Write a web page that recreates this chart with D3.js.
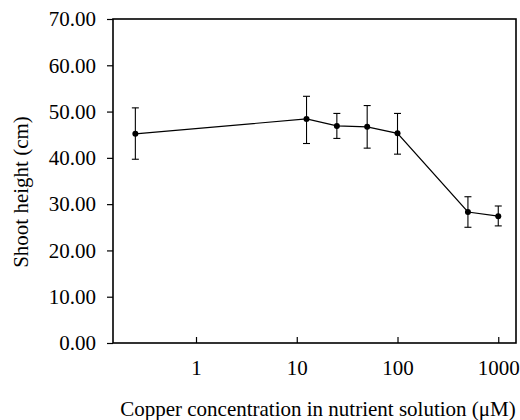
<!DOCTYPE html>
<html>
<head>
<meta charset="utf-8">
<script src="https://cdn.jsdelivr.net/npm/d3@7"></script>
<style>
  html, body { margin: 0; padding: 0; background: #fff; }
  svg { display: block; }
  text { font-family: "Liberation Serif", "Times New Roman", serif; fill: #000; }
</style>
</head>
<body>
<svg id="chart" width="520" height="420"></svg>
<script>
// Data
const concentrations = [0.25, 12.5, 25, 50, 100, 500, 1000];
const shootHeight    = [45.2, 48.4, 46.9, 46.7, 45.3, 28.3, 27.4];
const errUpper       = [50.8, 53.3, 49.6, 51.3, 49.6, 31.6, 29.6];
const errLower       = [39.7, 43.1, 44.2, 42.1, 40.8, 25.0, 25.3];
const xTickValues    = [1, 10, 100, 1000];
const yTickValues    = [0, 10, 20, 30, 40, 50, 60, 70];

const svg = d3.select("#chart");
const margin = { left: 113, right: 4, top: 19, bottom: 77 };
const W = 520, H = 420;

const x = d3.scaleLog().domain([0.15, 1500]).range([margin.left, W - margin.right]);
const y = d3.scaleLinear().domain([0, 70]).range([H - margin.bottom, margin.top]);

const fontSize = 21;

// Y axis
const yAxis = svg.append("g")
  .attr("transform", `translate(${margin.left},0)`)
  .call(d3.axisLeft(y).tickValues(yTickValues).tickFormat(d3.format(".2f")).tickSize(6).tickPadding(11));
yAxis.select(".domain").remove();
yAxis.selectAll("line").attr("stroke", "#000").attr("stroke-width", 1.2);
yAxis.selectAll("text").attr("font-size", fontSize).attr("font-family", "Liberation Serif");

// X axis (ticks inward)
const xAxis = svg.append("g")
  .attr("transform", `translate(0,${H - margin.bottom})`)
  .call(d3.axisBottom(x).tickValues(xTickValues).tickFormat(d3.format("d")).tickSizeInner(-6).tickSizeOuter(0).tickPadding(17));
xAxis.select(".domain").remove();
xAxis.selectAll("line").attr("stroke", "#000").attr("stroke-width", 1.2);
xAxis.selectAll("text").attr("font-size", fontSize).attr("font-family", "Liberation Serif");

// Plot frame
svg.append("rect")
  .attr("x", margin.left).attr("y", margin.top)
  .attr("width", W - margin.right - margin.left)
  .attr("height", H - margin.bottom - margin.top)
  .attr("fill", "none").attr("stroke", "#000").attr("stroke-width", 1.6);

// Error bars
const idx = d3.range(concentrations.length);
const eb = svg.append("g").attr("stroke", "#000").attr("stroke-width", 1.1);
eb.selectAll("line.v").data(idx).join("line").attr("class", "v")
  .attr("x1", i => x(concentrations[i])).attr("x2", i => x(concentrations[i]))
  .attr("y1", i => y(errUpper[i])).attr("y2", i => y(errLower[i]));
eb.selectAll("line.t").data(idx).join("line").attr("class", "t")
  .attr("x1", i => x(concentrations[i]) - 3.5).attr("x2", i => x(concentrations[i]) + 3.5)
  .attr("y1", i => y(errUpper[i])).attr("y2", i => y(errUpper[i]));
eb.selectAll("line.b").data(idx).join("line").attr("class", "b")
  .attr("x1", i => x(concentrations[i]) - 3.5).attr("x2", i => x(concentrations[i]) + 3.5)
  .attr("y1", i => y(errLower[i])).attr("y2", i => y(errLower[i]));

// Line
const line = d3.line().x(i => x(concentrations[i])).y(i => y(shootHeight[i]));
svg.append("path").datum(idx).attr("d", line)
  .attr("fill", "none").attr("stroke", "#000").attr("stroke-width", 1.2);

// Points
svg.append("g").selectAll("circle").data(idx).join("circle")
  .attr("cx", i => x(concentrations[i])).attr("cy", i => y(shootHeight[i]))
  .attr("r", 3).attr("fill", "#000");

// Axis titles
svg.append("text")
  .attr("x", 318).attr("y", 416)
  .attr("text-anchor", "middle").attr("font-size", fontSize)
  .text("Copper concentration in nutrient solution (\u03BCM)");

svg.append("text")
  .attr("transform", "translate(28,192) rotate(-90)")
  .attr("text-anchor", "middle").attr("font-size", fontSize)
  .text("Shoot height (cm)");
</script>
</body>
</html>
